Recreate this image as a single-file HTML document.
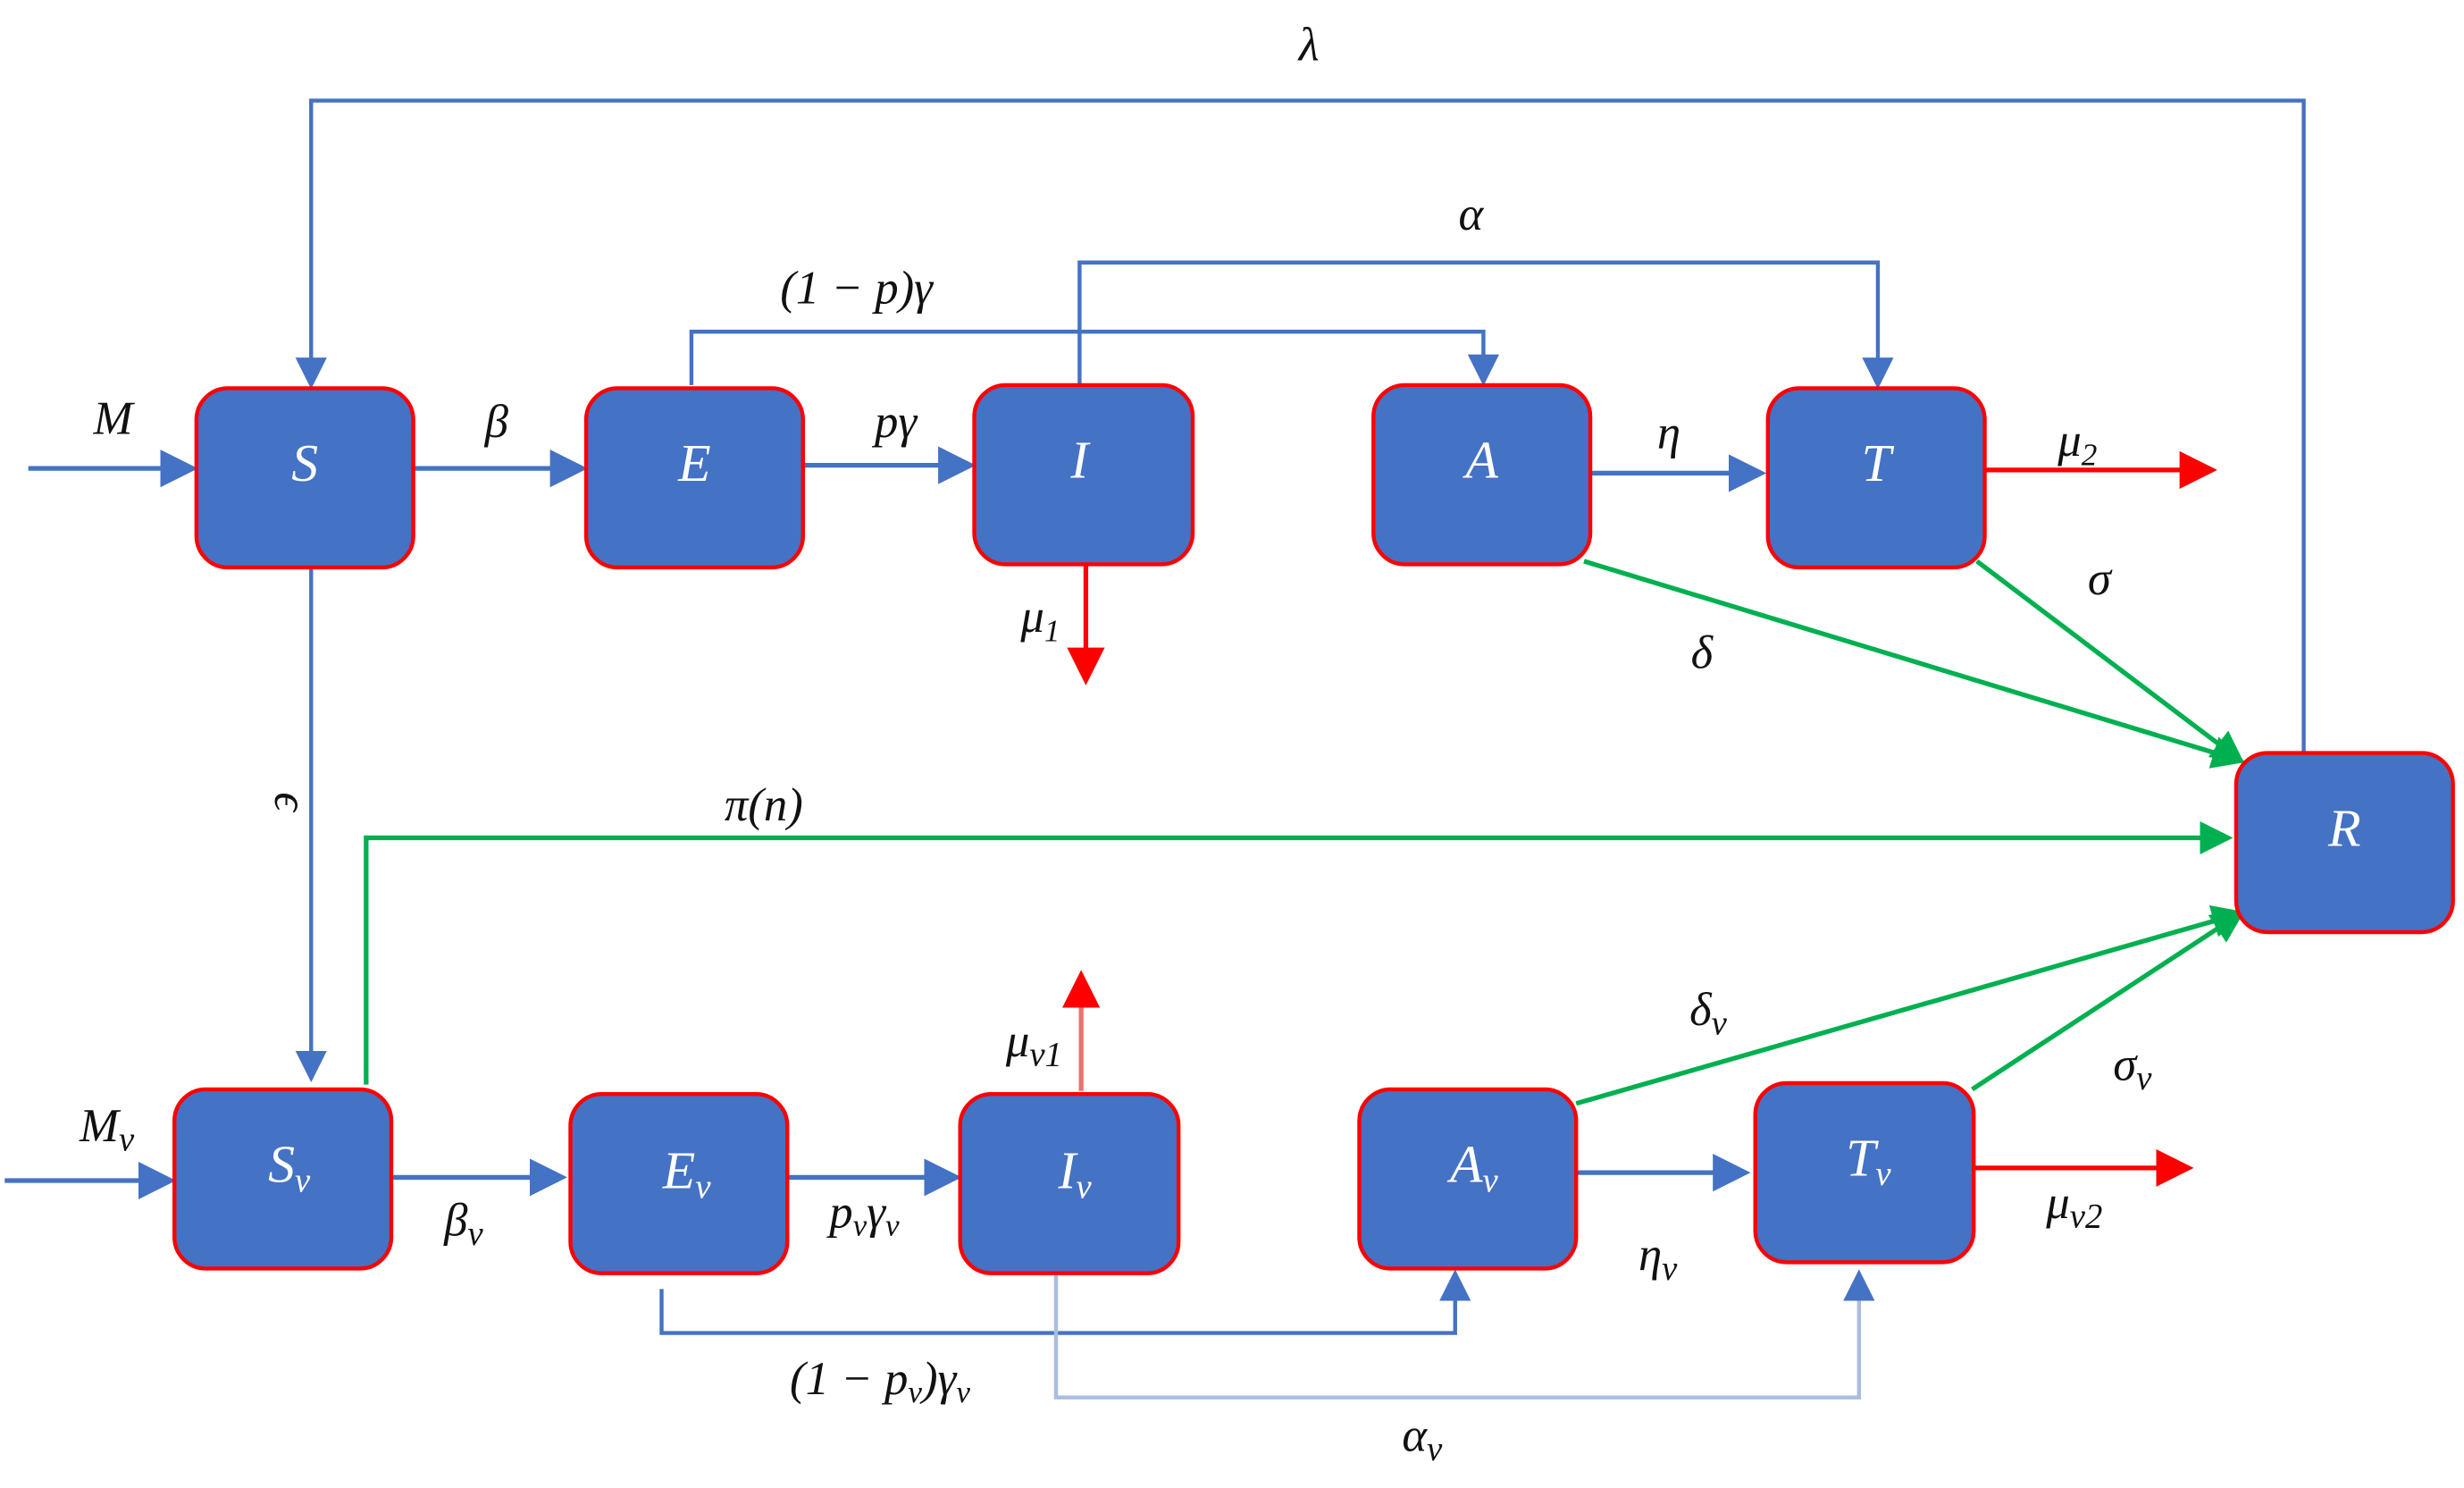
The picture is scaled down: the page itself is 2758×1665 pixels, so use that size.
<!DOCTYPE html>
<html><head><meta charset="utf-8"><style>
html,body{margin:0;padding:0;background:#fff;}
svg{display:block}
text{font-family:"Liberation Serif","DejaVu Serif",serif;font-style:italic;}
.l{font-size:30px;fill:#111;}
.b{font-size:34px;fill:#fff;}
</style></head><body>
<svg width="2758" height="1665" viewBox="0 0 1568 946.6" preserveAspectRatio="none" xmlns="http://www.w3.org/2000/svg">
<defs>
<marker id="ab" markerWidth="8" markerHeight="8" refX="7" refY="4" orient="auto" markerUnits="strokeWidth"><path d="M0,0 L8,4 L0,8 z" fill="#4472C4"/></marker>
<marker id="ar" markerWidth="8" markerHeight="8" refX="7" refY="4" orient="auto" markerUnits="strokeWidth"><path d="M0,0 L8,4 L0,8 z" fill="#f00"/></marker>
<marker id="ag" markerWidth="7" markerHeight="7" refX="6" refY="3.5" orient="auto" markerUnits="strokeWidth"><path d="M0,0 L7,3.5 L0,7 z" fill="#00b050"/></marker>
</defs>
<g fill="none" stroke="#4472C4" stroke-width="3">
<line x1="18" y1="298" x2="123" y2="298" marker-end="url(#ab)"/>
<polyline points="1466,479 1466,64 198,64 198,245" stroke-width="2.5" marker-end="url(#ab)"/>
<line x1="263" y1="298" x2="371" y2="298" marker-end="url(#ab)"/>
<line x1="511" y1="296" x2="618" y2="296" marker-end="url(#ab)"/>
<polyline points="440,245 440,211 944,211 944,243" stroke-width="2.5" marker-end="url(#ab)"/>
<polyline points="687,245 687,167 1195,167 1195,245" stroke-width="2.5" marker-end="url(#ab)"/>
<line x1="1012" y1="301" x2="1121" y2="301" marker-end="url(#ab)"/>
<line x1="198" y1="361" x2="198" y2="686" stroke-width="2.5" marker-end="url(#ab)"/>
<line x1="3" y1="751" x2="109" y2="751" marker-end="url(#ab)"/>
<line x1="249" y1="749" x2="358" y2="749" marker-end="url(#ab)"/>
<line x1="501" y1="749" x2="609" y2="749" marker-end="url(#ab)"/>
<polyline points="421,820 421,848 926,848 926,810" stroke-width="2.5" marker-end="url(#ab)"/>
<polyline points="672,810 672,889 1183,889 1183,810" stroke-width="2.5" stroke="#a9bde0" marker-end="url(#ab)"/>
<line x1="1003" y1="746" x2="1111" y2="746" marker-end="url(#ab)"/>
</g>
<g fill="none" stroke="#f00" stroke-width="3">
<line x1="1263" y1="299" x2="1408" y2="299" marker-end="url(#ar)"/>
<line x1="691" y1="359" x2="691" y2="433" marker-end="url(#ar)"/>
<line x1="688" y1="694" x2="688" y2="620" stroke="#f07070" marker-end="url(#ar)"/>
<line x1="1256" y1="743" x2="1393" y2="743" marker-end="url(#ar)"/>
</g>
<g fill="none" stroke="#00b050" stroke-width="3">
<line x1="1008" y1="357" x2="1426" y2="484" marker-end="url(#ag)"/>
<line x1="1258" y1="357" x2="1426" y2="484" marker-end="url(#ag)"/>
<polyline points="233,690 233,533 1418,533" marker-end="url(#ag)"/>
<line x1="1003" y1="702" x2="1426" y2="581" marker-end="url(#ag)"/>
<line x1="1255" y1="693" x2="1426" y2="581" marker-end="url(#ag)"/>
</g>
<g fill="#4472C4" stroke="#f00" stroke-width="2.5">
<rect x="125" y="247" width="138" height="114" rx="20"/>
<rect x="373" y="247" width="138" height="114" rx="20"/>
<rect x="620" y="245" width="139" height="114" rx="20"/>
<rect x="874" y="245" width="138" height="114" rx="20"/>
<rect x="1125" y="247" width="138" height="114" rx="20"/>
<rect x="1423" y="479" width="138" height="114" rx="20"/>
<rect x="111" y="693" width="138" height="114" rx="20"/>
<rect x="363" y="696" width="138" height="114" rx="20"/>
<rect x="611" y="696" width="139" height="114" rx="20"/>
<rect x="865" y="693" width="138" height="114" rx="20"/>
<rect x="1117" y="689" width="139" height="114" rx="20"/>
</g>
<g class="b" text-anchor="middle">
<text x="194" y="306">S</text>
<text x="442" y="306">E</text>
<text x="687" y="304">I</text>
<text x="943" y="304">A</text>
<text x="1194" y="306">T</text>
<text x="1492" y="538">R</text>
<text x="184" y="752">S<tspan font-size="22" dy="6">v</tspan></text>
<text x="437" y="756">E<tspan font-size="22" dy="6">v</tspan></text>
<text x="684" y="756">I<tspan font-size="22" dy="6">v</tspan></text>
<text x="938" y="752">A<tspan font-size="22" dy="6">v</tspan></text>
<text x="1189" y="748">T<tspan font-size="22" dy="6">v</tspan></text>
</g>
<g class="l" text-anchor="middle">
<text x="833" y="38">λ</text>
<text x="72" y="276">M</text>
<text x="316" y="278">β</text>
<text x="570" y="278">pγ</text>
<text x="545" y="193" font-style="normal">(1 − <tspan font-style="italic">p</tspan>)<tspan font-style="italic">γ</tspan></text>
<text x="936" y="146">α</text>
<text x="1062" y="285">η</text>
<text x="1322" y="290">μ<tspan font-size="20" dy="6">2</tspan></text>
<text x="662" y="402">μ<tspan font-size="20" dy="6">1</tspan></text>
<text x="1083" y="425">δ</text>
<text x="1336" y="378">σ</text>
<text x="180" y="515" transform="rotate(90 180 510)">ϵ</text>
<text x="486" y="522">π(n)</text>
<text x="68" y="726">M<tspan font-size="22" dy="6">v</tspan></text>
<text x="295" y="786">β<tspan font-size="22" dy="6">v</tspan></text>
<text x="550" y="781">p<tspan font-size="20" dy="5">v</tspan><tspan dy="-5">γ</tspan><tspan font-size="20" dy="5">v</tspan></text>
<text x="658" y="672">μ<tspan font-size="22" dy="6">v1</tspan></text>
<text x="560" y="887" font-style="normal">(1 − <tspan font-style="italic">p</tspan><tspan font-size="20" dy="5" font-style="italic">v</tspan><tspan dy="-5">)</tspan><tspan font-style="italic">γ</tspan><tspan font-style="italic" font-size="20" dy="5">v</tspan></text>
<text x="905" y="923">α<tspan font-size="22" dy="6">v</tspan></text>
<text x="1055" y="808">η<tspan font-size="22" dy="6">v</tspan></text>
<text x="1320" y="775">μ<tspan font-size="22" dy="6">v2</tspan></text>
<text x="1087" y="652">δ<tspan font-size="22" dy="6">v</tspan></text>
<text x="1357" y="687">σ<tspan font-size="22" dy="6">v</tspan></text>
</g>
</svg>
</body></html>
